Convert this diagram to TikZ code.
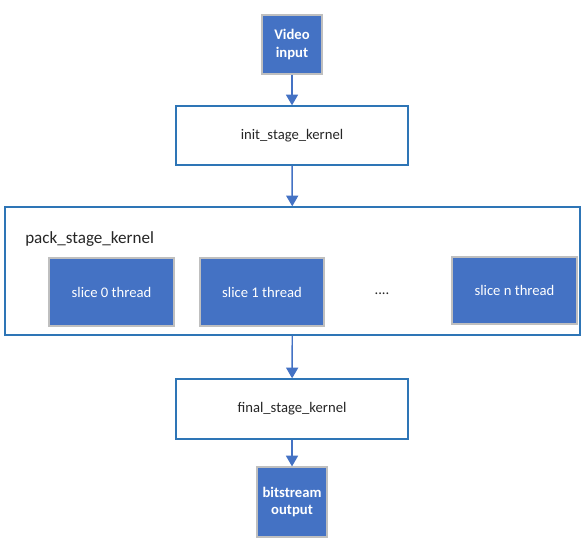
\documentclass[tikz,border=0pt]{standalone}
\usepackage{fontspec}
\setmainfont{Carlito}
\usetikzlibrary{arrows.meta}
\definecolor{fillblue}{HTML}{4472C4}
\definecolor{edgeblue}{HTML}{2E75B6}
\definecolor{greyedge}{HTML}{BFBFBF}
\definecolor{txt}{HTML}{262626}
\begin{document}
\begin{tikzpicture}[x=0.75pt,y=-0.75pt,
  bluebox/.style={draw=greyedge,line width=0.9pt,fill=fillblue,text=white,font=\fontsize{11}{13}\selectfont,align=center,inner sep=0pt},
  stagebox/.style={draw=edgeblue,line width=1pt,fill=white,text=txt,font=\fontsize{11}{13}\selectfont,inner sep=0pt},
  flow/.style={draw=fillblue,line width=1.1pt,-{Triangle[width=9pt,length=8pt]}}]
\useasboundingbox (0,0) rectangle (586,541);
\node[bluebox,font=\fontsize{11}{13}\selectfont\bfseries,minimum width=60*0.75pt,minimum height=59*0.75pt] (vid) at (292,44.5) {Video\\input};
\node[stagebox,minimum width=232*0.75pt,minimum height=59*0.75pt] (init) at (292,135.5) {init\_stage\_kernel};
\node[stagebox,minimum width=575*0.75pt,minimum height=128*0.75pt] (pack) at (292.5,271) {};
\node[anchor=west,text=txt,font=\fontsize{12.8}{15}\selectfont,inner sep=0pt] (packlbl) at (25,239) {pack\_stage\_kernel};
\node[bluebox,minimum width=125*0.75pt,minimum height=68*0.75pt] (s0) at (111.5,292) {slice 0 thread};
\node[bluebox,minimum width=124*0.75pt,minimum height=68*0.75pt] (s1) at (262,292) {slice 1 thread};
\node[text=txt,font=\fontsize{11}{13}\selectfont,inner sep=0pt] (dots) at (382,294) {....};
\node[bluebox,minimum width=125*0.75pt,minimum height=67*0.75pt] (sn) at (514.5,290.5) {slice n thread};
\node[stagebox,minimum width=232*0.75pt,minimum height=60*0.75pt] (final) at (292,409) {final\_stage\_kernel};
\node[bluebox,font=\fontsize{11}{13}\selectfont\bfseries,minimum width=70*0.75pt,minimum height=70*0.75pt] (bit) at (292,502) {bitstream\\output};
\draw[flow] (vid) -- (init);
\draw[flow] (init) -- (pack);
\draw[flow] (pack) -- (final);
\draw[flow] (final) -- (bit);
\end{tikzpicture}
\end{document}
